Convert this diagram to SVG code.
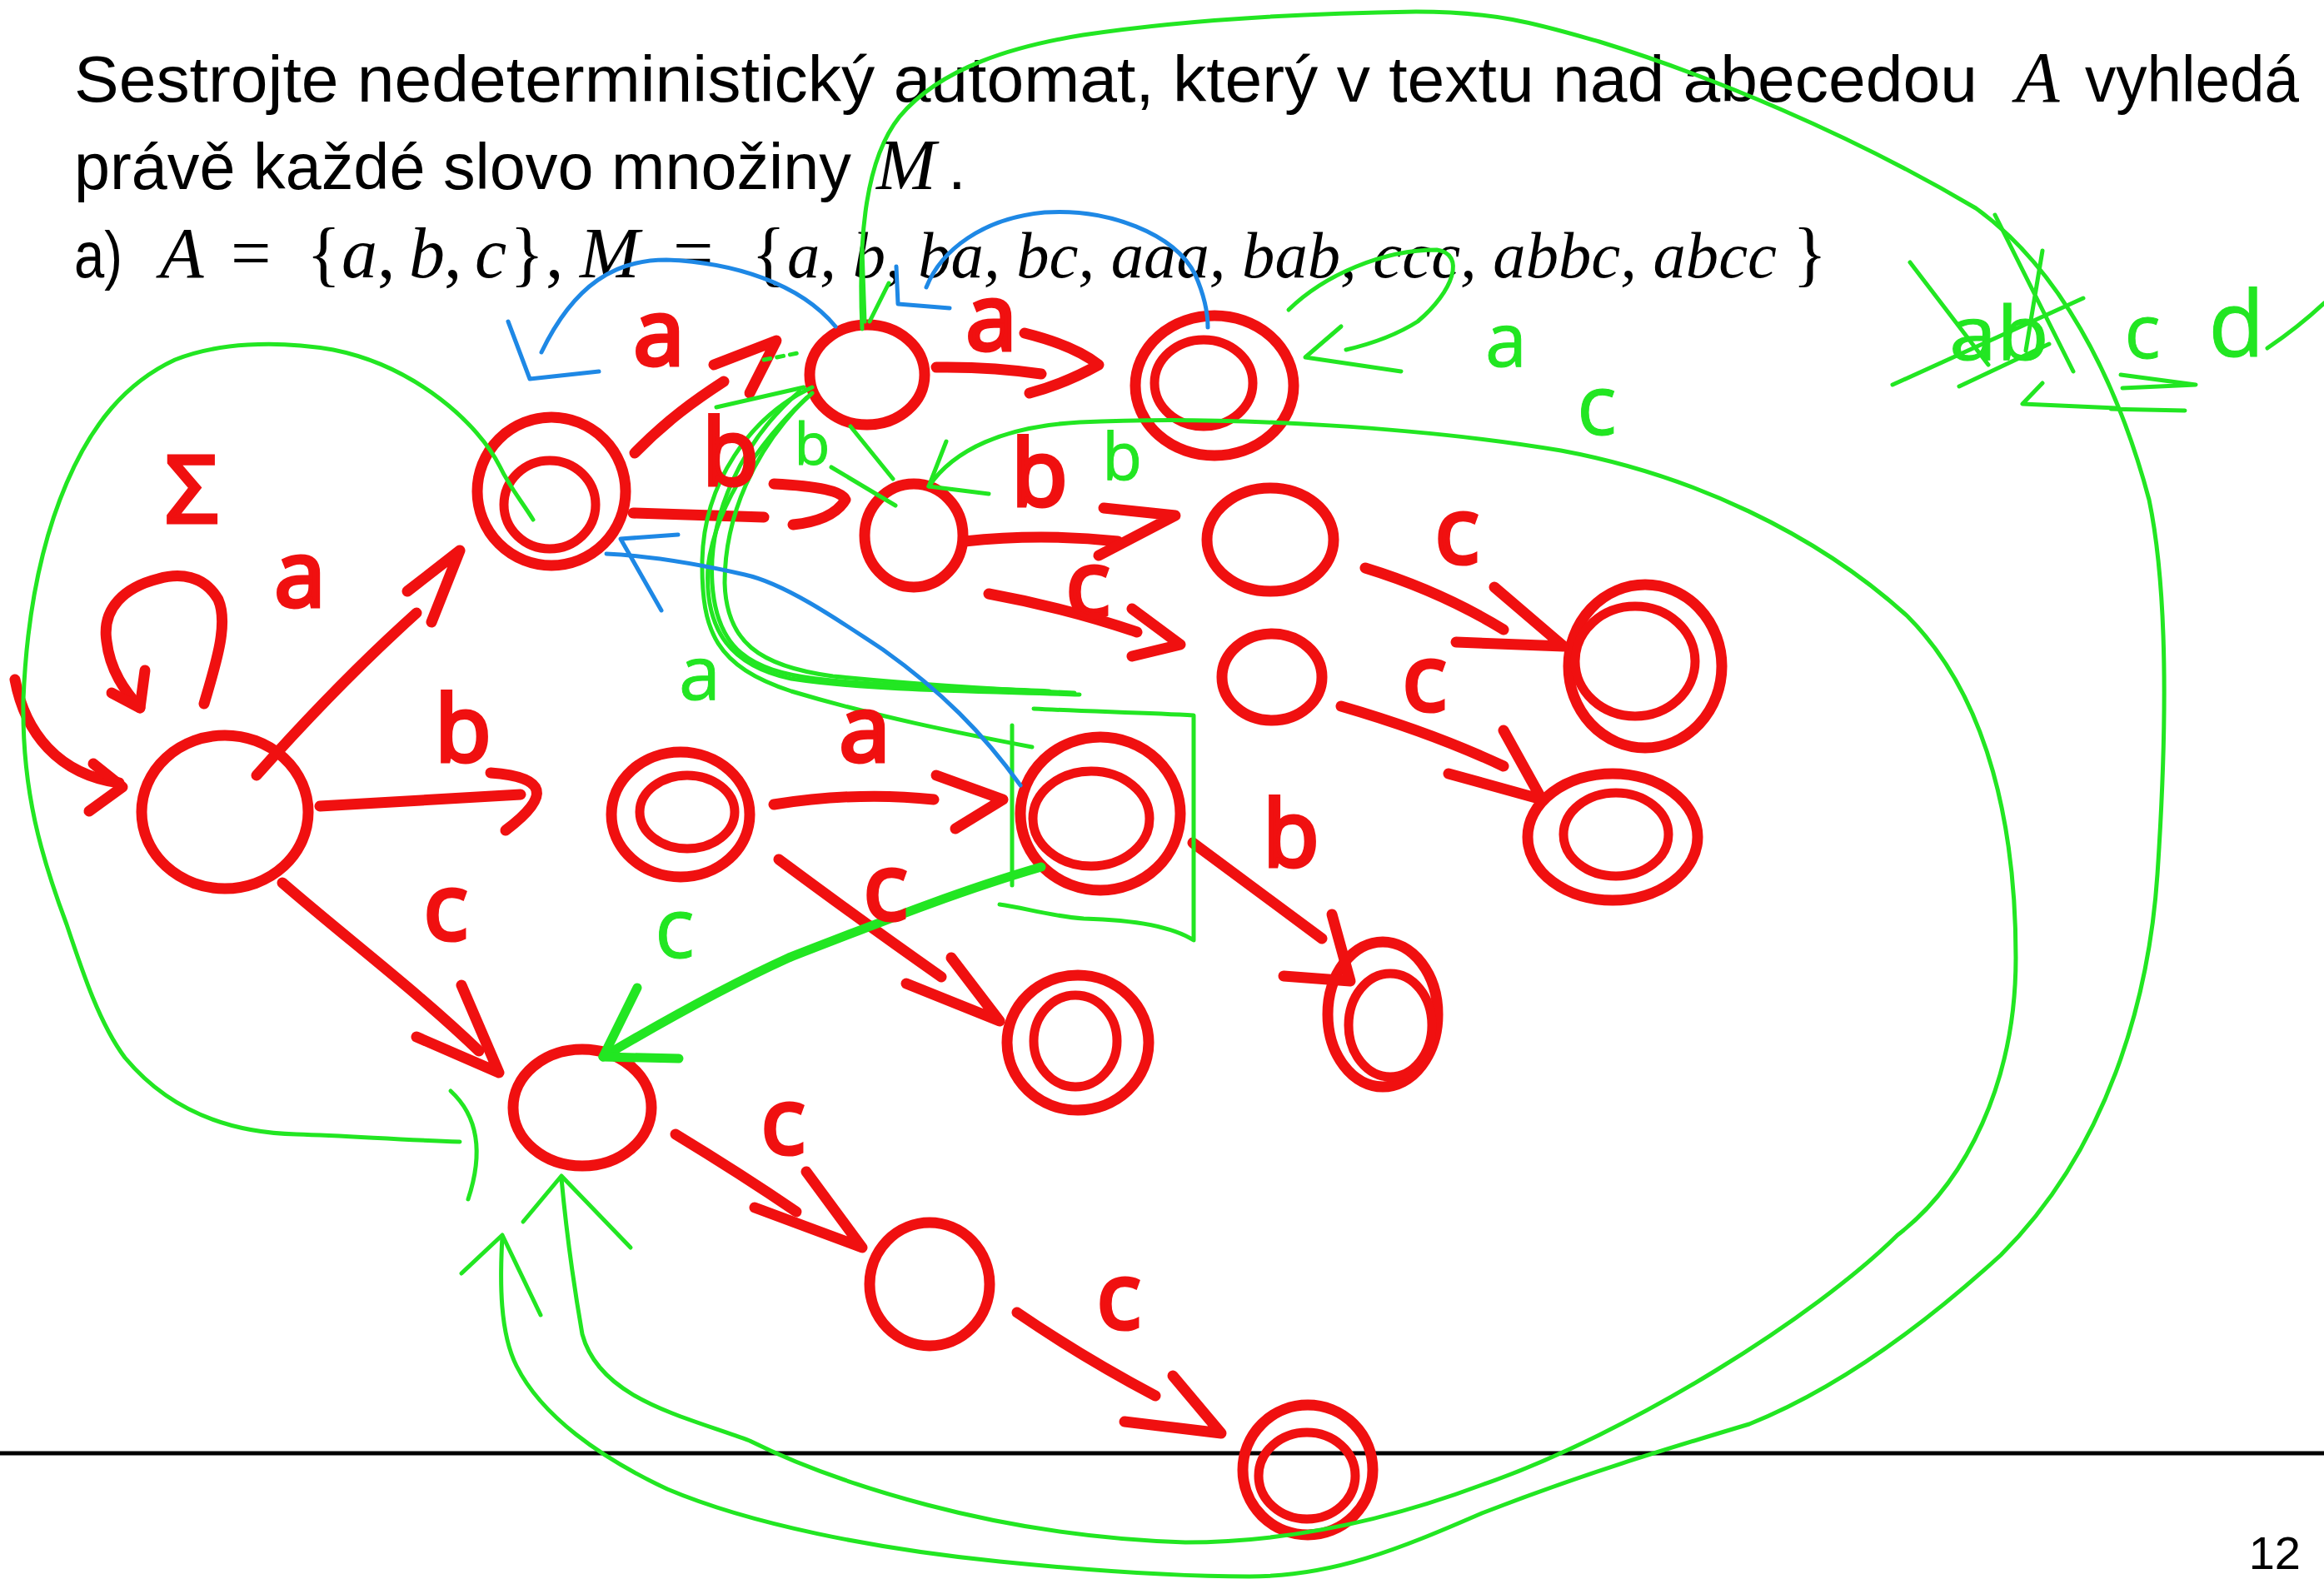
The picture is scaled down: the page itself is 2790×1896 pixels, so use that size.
<svg xmlns="http://www.w3.org/2000/svg" width="2790" height="1896" viewBox="0 0 2790 1896">
<style>
.bg{fill:#ffffff}
.tx{font-family:"Liberation Sans","DejaVu Sans",sans-serif;font-size:78px;fill:#000}
.mi{font-family:"Liberation Serif","DejaVu Serif",serif;font-style:italic;font-size:86px;fill:#000}
.mu{font-family:"Liberation Serif","DejaVu Serif",serif;font-size:86px;fill:#000}
.r{fill:none;stroke:#f01010;stroke-width:13;stroke-linecap:round;stroke-linejoin:round}
.ri{fill:none;stroke:#f01010;stroke-width:11;stroke-linecap:round}
.g{fill:none;stroke:#22e622;stroke-width:5;stroke-linecap:round;stroke-linejoin:round}
.gt{fill:none;stroke:#22e622;stroke-width:11;stroke-linecap:round;stroke-linejoin:round}
.b{fill:none;stroke:#1e88e5;stroke-width:5;stroke-linecap:round;stroke-linejoin:round}
.rl{font-family:"Open Sans","DejaVu Sans",sans-serif;font-size:110px;fill:#f01010;stroke:#f01010;stroke-width:5;text-anchor:middle}
.gl{font-family:"Open Sans","DejaVu Sans",sans-serif;font-size:90px;fill:#22e622;stroke:#22e622;stroke-width:1;text-anchor:middle}
</style>
<rect class="bg" x="0" y="0" width="2790" height="1896"/>

<g id="heading">
<text class="tx" x="89" y="122" textLength="2285" lengthAdjust="spacingAndGlyphs">Sestrojte nedeterministický automat, který v textu nad abecedou</text>
<text class="mi" x="2420" y="122">A</text>
<text class="tx" x="2503" y="122" textLength="257" lengthAdjust="spacingAndGlyphs">vyhledá</text>
<text class="tx" x="89" y="227" textLength="933" lengthAdjust="spacingAndGlyphs">právě každé slovo množiny</text>
<text class="mi" x="1052" y="227">M</text>
<text class="tx" x="1138" y="227">.</text>
<text class="tx" x="89" y="333" textLength="58" lengthAdjust="spacingAndGlyphs">a)</text>
<text class="mi" x="192" y="333">A</text>
<text class="mu" x="277" y="333">=</text>
<text class="mu" x="368" y="333">{</text>
<text class="mi" x="410" y="333">a</text>
<text class="mu" x="453" y="333">,</text>
<text class="mi" x="491" y="333">b</text>
<text class="mu" x="533" y="333">,</text>
<text class="mi" x="570" y="333">c</text>
<text class="mu" x="612" y="333">}</text>
<text class="mu" x="655" y="333">,</text>
<text class="mi" x="696" y="333">M</text>
<text class="mu" x="808" y="333">=</text>
<text class="mu" x="902" y="333">{</text>
<text class="mi" x="945" y="333" style="font-size:78px" textLength="1188" lengthAdjust="spacingAndGlyphs">a, b, ba, bc, aaa, bab, ccc, abbc, abcc</text>
<text class="mu" x="2152" y="333">}</text>
</g>

<g id="footer">
<path d="M0,1745 L2790,1745" stroke="#000" stroke-width="5" fill="none"/>
<text class="tx" x="2762" y="1884" style="font-size:56px" text-anchor="end">12</text>
</g>

<g id="nodes">
<g id="n-start"><ellipse class="r" cx="270" cy="975" rx="100" ry="92"/></g>
<g id="n-a"><ellipse class="r" cx="662" cy="590" rx="89" ry="89"/><ellipse class="ri" cx="660" cy="606" rx="55" ry="53"/></g>
<g id="n-aa"><ellipse class="r" cx="1041" cy="450" rx="69" ry="60"/></g>
<g id="n-aaa"><ellipse class="r" cx="1458" cy="463" rx="95" ry="84"/><ellipse class="ri" cx="1445" cy="460" rx="59" ry="52"/></g>
<g id="n-ab"><ellipse class="r" cx="1097" cy="643" rx="59" ry="62"/></g>
<g id="n-abb"><ellipse class="r" cx="1525" cy="648" rx="76" ry="62"/></g>
<g id="n-abc"><ellipse class="r" cx="1527" cy="813" rx="60" ry="52"/></g>
<g id="n-abbc"><ellipse class="r" cx="1975" cy="800" rx="92" ry="98"/><ellipse class="ri" cx="1963" cy="794" rx="72" ry="66"/></g>
<g id="n-abcc"><ellipse class="r" cx="1936" cy="1005" rx="102" ry="76"/><ellipse class="ri" cx="1940" cy="1002" rx="63" ry="50"/></g>
<g id="n-b"><ellipse class="r" cx="817" cy="978" rx="83" ry="75"/><ellipse class="ri" cx="825" cy="975" rx="57" ry="44"/></g>
<g id="n-ba"><ellipse class="r" cx="1321" cy="977" rx="96" ry="92"/><ellipse class="ri" cx="1310" cy="983" rx="70" ry="57"/></g>
<g id="n-bc"><ellipse class="r" cx="1294" cy="1252" rx="85" ry="81"/><ellipse class="ri" cx="1291" cy="1250" rx="50" ry="55"/></g>
<g id="n-bab"><ellipse class="r" cx="1660" cy="1218" rx="66" ry="87"/><ellipse class="ri" cx="1669" cy="1231" rx="50" ry="62"/></g>
<g id="n-c"><ellipse class="r" cx="699" cy="1330" rx="83" ry="70"/></g>
<g id="n-cc"><ellipse class="r" cx="1116" cy="1542" rx="72" ry="74"/></g>
<g id="n-ccc"><ellipse class="r" cx="1570" cy="1765" rx="78" ry="78"/><ellipse class="ri" cx="1569" cy="1772" rx="58" ry="52"/></g>
</g>

<g id="connectors">
<!-- red transitions -->
<path class="r" d="M18,816 C30,880 70,930 143,940"/>
<path class="r" d="M112,917 L147,945 L107,974"/>
<path class="r" d="M245,845 C258,800 275,750 262,720 C245,690 215,688 190,695 C150,705 122,730 128,770 C132,805 150,830 168,850"/>
<path class="r" d="M134,832 L168,850 L174,805"/>
<path class="r" d="M308,931 C380,850 440,790 500,736"/>
<path class="r" d="M489,710 L552,661 L518,747"/>
<path class="r" d="M384,968 L625,954"/>
<path class="r" d="M589,928 Q690,935 607,997"/>
<path class="r" d="M339,1060 C420,1130 500,1190 575,1262"/>
<path class="r" d="M500,1245 L599,1288 L554,1183"/>
<path class="r" d="M762,544 C800,505 835,480 869,458"/>
<path class="r" d="M857,438 L932,409 L900,472"/>
<path class="r" d="M1124,441 Q1190,440 1250,449"/>
<path class="r" d="M1230,400 Q1290,415 1319,438 Q1280,460 1236,472"/>
<path class="r" d="M760,616 L917,621"/>
<path class="r" d="M929,581 Q1010,585 1015,600 Q1000,625 952,630"/>
<path class="r" d="M1158,650 Q1250,640 1342,650"/>
<path class="r" d="M1325,610 L1411,619 L1319,667"/>
<path class="r" d="M1187,713 Q1280,730 1365,759"/>
<path class="r" d="M1359,731 L1417,774 L1359,788"/>
<path class="r" d="M1639,682 Q1730,710 1805,756"/>
<path class="r" d="M1794,705 L1877,776 L1748,771"/>
<path class="r" d="M1610,848 Q1720,880 1805,920"/>
<path class="r" d="M1805,877 L1851,960 L1739,929"/>
<path class="r" d="M929,966 Q1030,950 1121,960"/>
<path class="r" d="M1124,931 L1204,960 L1147,995"/>
<path class="r" d="M935,1032 Q1040,1110 1130,1173"/>
<path class="r" d="M1088,1181 L1200,1226 L1142,1150"/>
<path class="r" d="M1432,1012 Q1510,1070 1587,1127"/>
<path class="r" d="M1599,1098 L1621,1178 L1541,1172"/>
<path class="r" d="M811,1362 Q890,1410 956,1455"/>
<path class="r" d="M968,1407 L1035,1498 L906,1450"/>
<path class="r" d="M1221,1576 Q1300,1630 1387,1676"/>
<path class="r" d="M1408,1652 L1466,1721 L1350,1707"/>

<!-- green annotations -->
<path class="g" d="M640,624 C625,600 612,585 600,560 C575,510 500,440 400,420 C330,408 260,412 210,432 C150,460 110,510 80,580 C50,650 32,740 28,840 C26,950 50,1030 80,1110 C100,1170 120,1230 150,1270 C200,1330 270,1360 356,1362 C420,1364 470,1368 552,1371"/>
<path class="g" d="M541,1310 Q590,1355 562,1440"/>
<path class="g" d="M1115,584 C1145,540 1205,512 1296,507 C1480,498 1720,515 1874,541 C2030,570 2180,640 2290,740 C2390,840 2420,1000 2420,1150 C2420,1300 2360,1420 2278,1483 C2180,1580 1960,1720 1779,1783 C1680,1820 1560,1852 1423,1852 C1300,1848 1200,1830 1113,1807 C1030,1785 960,1760 900,1730 C820,1700 720,1680 699,1602 C690,1550 680,1480 674,1415"/>
<path class="g" d="M628,1467 L674,1412 L757,1498"/>
<path class="g" d="M1035,395 C1030,280 1040,190 1080,140 C1130,80 1220,55 1300,42 C1420,24 1560,16 1700,14 C1800,14 1850,30 1920,50 C2050,90 2220,160 2372,250 C2470,320 2540,450 2580,600 C2605,720 2600,900 2590,1050 C2580,1200 2530,1380 2402,1507 C2300,1600 2200,1670 2100,1710 C2000,1740 1900,1770 1779,1817 C1680,1860 1600,1893 1500,1893 C1400,1893 1300,1885 1200,1875 C1050,1860 900,1830 801,1788 C720,1750 650,1700 620,1640 C600,1600 600,1540 603,1485"/>
<path class="g" d="M554,1529 L603,1483 L649,1579"/>
<path class="g" d="M1035,300 L1038,386 M1067,340 L1044,386"/>
<path class="g" d="M1547,372 C1590,330 1660,300 1725,300 C1760,305 1745,350 1702,386 C1680,400 1650,412 1616,420"/>
<path class="g" d="M1610,392 L1567,429 L1682,446"/>
<path class="g" d="M975,472 C920,520 860,600 850,680 C845,760 880,800 950,815 C1050,830 1180,830 1296,834"/>
<path class="g" d="M968,478 C905,540 870,620 870,700 C872,770 910,800 1000,812 C1100,822 1200,828 1290,832"/>
<path class="g" d="M960,470 C890,530 850,620 855,700 C860,780 900,805 980,815 C1080,826 1180,826 1260,830"/>
<path class="g" d="M975,465 C900,500 845,580 843,673 C842,760 860,800 950,830 C1050,860 1150,880 1239,897"/>
<path class="g" d="M860,489 L965,465"/>
<path class="g" d="M1021,512 L1072,575 M998,561 L1075,607"/>
<path class="g" d="M1136,530 L1115,584 L1187,593"/>
<path class="g" d="M917,432 L963,423" stroke-dasharray="8 8"/>
<path class="g" d="M1241,851 C1300,854 1380,856 1433,859 L1433,1129 C1400,1108 1340,1104 1301,1103 C1260,1100 1230,1090 1200,1086 M1215,871 L1215,1063"/>
<path class="gt" d="M1250,1041 C1150,1070 1050,1110 947,1150 C870,1185 790,1230 724,1269"/>
<path class="gt" d="M765,1186 L724,1269 L815,1271"/>
<path class="g" d="M2395,258 L2489,446 M2293,315 L2387,438 M2272,462 L2501,358 M2352,464 L2460,413 M2452,301 L2432,421"/>
<path class="g" d="M2452,460 L2428,485 L2540,490 M2546,450 L2636,462 L2548,466 M2534,491 L2623,493"/>
<path class="g" d="M2722,418 Q2760,392 2790,364"/>

<!-- blue annotations -->
<path class="b" d="M1003,392 C960,340 880,315 800,312 C740,312 690,340 650,423"/>
<path class="b" d="M610,386 L636,455 L719,446"/>
<path class="b" d="M1450,393 C1450,380 1448,360 1435,330 C1410,280 1330,250 1254,255 C1180,262 1130,300 1112,345"/>
<path class="b" d="M1076,320 L1078,365 L1140,370"/>
<path class="b" d="M1225,943 C1180,880 1130,830 1060,780 C1000,740 940,700 894,690 C850,680 790,668 728,665"/>
<path class="b" d="M814,642 L745,647 L794,733"/>
</g>

<g id="labels">
<text class="rl" x="230" y="627">Σ</text>
<text class="rl" x="360" y="728">a</text>
<text class="rl" x="556" y="914">b</text>
<text class="rl" x="535" y="1128">c</text>
<text class="rl" x="791" y="438">a</text>
<text class="rl" x="1190" y="420">a</text>
<text class="rl" x="877" y="582">b</text>
<text class="rl" x="1248" y="607">b</text>
<text class="rl" x="1749" y="676">c</text>
<text class="rl" x="1306" y="740">c</text>
<text class="rl" x="1710" y="853">c</text>
<text class="rl" x="1038" y="914">a</text>
<text class="rl" x="1063" y="1104">c</text>
<text class="rl" x="1550" y="1040">b</text>
<text class="rl" x="940" y="1385">c</text>
<text class="rl" x="1343" y="1595">c</text>
<text class="gl" x="840" y="840">a</text>
<text class="gl" x="975" y="558" style="font-size:70px">b</text>
<text class="gl" x="1347" y="576" style="font-size:78px">b</text>
<text class="gl" x="810" y="1150" style="font-size:100px">c</text>
<text class="gl" x="1808" y="440">a</text>
<text class="gl" x="1917" y="522" style="font-size:100px">c</text>
<text class="gl" x="2400" y="432" textLength="120" lengthAdjust="spacingAndGlyphs">ab</text>
<text class="gl" x="2572" y="430">c</text>
<text class="gl" x="2685" y="428" style="font-size:110px">d</text>
</g>
</svg>
